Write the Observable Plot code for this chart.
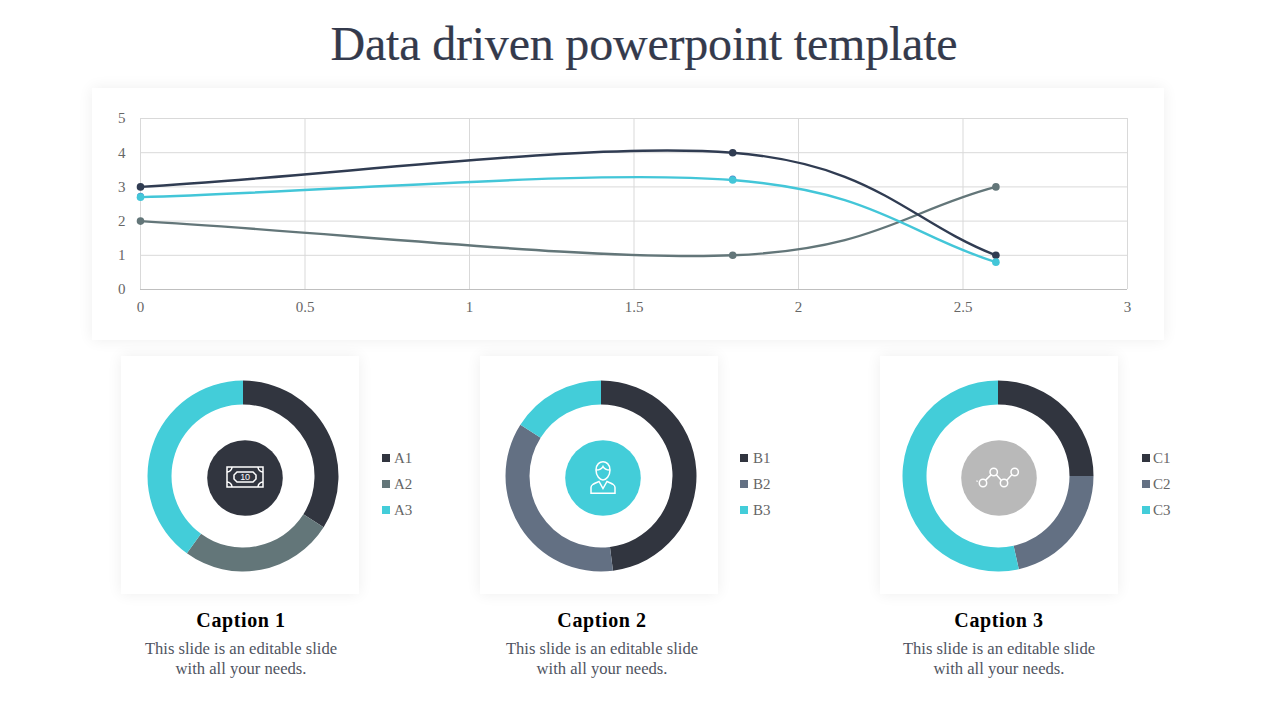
<!DOCTYPE html>
<html><head><meta charset="utf-8">
<script src="https://cdn.jsdelivr.net/npm/d3@7"></script>
<script src="https://cdn.jsdelivr.net/npm/@observablehq/plot@0.6"></script>
<style>
html,body{margin:0;padding:0;background:#fff}
#page{position:relative;width:1280px;height:720px;overflow:hidden;background:#fff;font-family:"Liberation Serif",serif}
#page>*{position:absolute}
.card{background:#fff;box-shadow:0 0 14px rgba(0,0,0,.07)}
#title{left:0;width:1288px;top:17px;text-align:center;font-size:48px;line-height:54px;color:#343a4c;letter-spacing:-.2px;white-space:nowrap;-webkit-text-stroke:.2px #343a4c}
.cap{font-weight:bold;font-size:20px;line-height:22px;color:#000;text-align:center;width:240px;letter-spacing:.6px}
.txt{font-size:16.6px;line-height:20px;color:#4f5461;text-align:center;width:240px}
.leg{font-size:15px;line-height:18px;color:#666;white-space:nowrap}
.sw{width:8px;height:8px}
svg{background:transparent;overflow:visible}
</style></head><body><div id="page"></div>
<script>
const lineX=[0,1.8,2.6];
const series1=[3,4,1];
const series2=[2,1,3];
const series3=[2.7,3.2,0.8];
const hiddenX=[0,1.8];
const hiddenY=[2.7,3.2];
const xTicks=[0,0.5,1,1.5,2,2.5,3];
const yTicks=[0,1,2,3,4,5];
const lineColors=["#303c52","#637679","#43c6d8"];

const donutA=[34,26,40], donutB=[48,36,16], donutC=[25,21.5,53.5];
const namesA=["A1","A2","A3"], namesB=["B1","B2","B3"], namesC=["C1","C2","C3"];
const colorsA=["#31353f","#637679","#43cdd9"];
const colorsB=["#31353f","#637083","#43cdd9"];
const colorsC=colorsB;
const captions=["Caption 1","Caption 2","Caption 3"];
const bodyLines=["This slide is an editable slide","with all your needs."];

const page=document.getElementById("page");
function add(cls,css,html){const e=document.createElement("div");e.className=cls;e.style.cssText=css;if(html!=null)e.innerHTML=html;page.appendChild(e);return e;}

add("","",null).id="title";
document.getElementById("title").textContent="Data driven powerpoint template";

// spreadsheet-style smoothing: inner tangents (next-prev)/6, end tangents along the chord /3
function smoothCurve(ctx){
  let pts;
  return {
    lineStart(){pts=[];},
    point(x,y){pts.push([+x,+y]);},
    lineEnd(){
      const n=pts.length; if(!n) return;
      ctx.moveTo(pts[0][0],pts[0][1]);
      for(let i=0;i<n-1;i++){
        const p1=pts[i],p2=pts[i+1],p0=pts[i-1],p3=pts[i+2];
        const c1=p0?[p1[0]+(p2[0]-p0[0])/6,p1[1]+(p2[1]-p0[1])/6]:[p1[0]+(p2[0]-p1[0])/3,p1[1]+(p2[1]-p1[1])/3];
        const c2=p3?[p2[0]-(p3[0]-p1[0])/6,p2[1]-(p3[1]-p1[1])/6]:[p2[0]-(p2[0]-p1[0])/3,p2[1]-(p2[1]-p1[1])/3];
        ctx.bezierCurveTo(c1[0],c1[1],c2[0],c2[1],p2[0],p2[1]);
      }
    },
    areaStart(){},areaEnd(){}
  };
}

// main line chart card
add("card","left:92px;top:88px;width:1072px;height:252px");
const table=[series1,series2,series3].flatMap((s,k)=>s.map((y,i)=>({x:lineX[i],y,k})));
const chart=Plot.plot({
  width:1072,height:252,marginLeft:49,marginRight:36,marginTop:30,marginBottom:51,
  style:{background:"transparent",fontFamily:'"Liberation Serif",serif',fontSize:"15px",color:"#666"},
  x:{domain:[0,3],ticks:xTicks,label:null,tickFormat:String},
  y:{domain:[0,5],ticks:yTicks,label:null,tickFormat:String},
  marks:[
    Plot.ruleX(xTicks,{stroke:"#d9d9d9",strokeWidth:1,strokeOpacity:1}),
    Plot.ruleY(yTicks.slice(1),{stroke:"#d9d9d9",strokeWidth:1,strokeOpacity:1}),
    Plot.ruleY([0],{stroke:"#bfbfbf",strokeWidth:1}),
    Plot.axisX({ticks:xTicks,tickSize:0,tickPadding:12,tickFormat:String,label:null,fill:"#666"}),
    Plot.axisY({ticks:yTicks,tickSize:0,tickPadding:15,tickFormat:String,label:null,fill:"#666"}),
    Plot.dot(hiddenX.map((x,i)=>({x,y:hiddenY[i]})),{x:"x",y:"y",r:3.5,dy:-1,fill:"#4f83c9",stroke:"none"}),
    ...[1,0,2].flatMap(k=>[
      Plot.line(table.filter(d=>d.k===k),{x:"x",y:"y",curve:smoothCurve,stroke:lineColors[k],strokeWidth:2.4}),
      Plot.dot(table.filter(d=>d.k===k),{x:"x",y:"y",r:3.8,fill:lineColors[k],stroke:"none"})
    ])
  ]
});
chart.style.cssText+=";position:absolute;left:91px;top:88px";
page.appendChild(chart);

function donutMark(values,names){
  const data=values.map((value,i)=>({value,name:names[i]}));
  return Plot.barX(data,Plot.stackX({x:"value",fill:"name",order:null,inset:0,
    render(index,scales,ch,dim){
      const g=d3.create("svg:g");
      const w=dim.width,h=dim.height;
      const ang=d3.scaleLinear().domain([0,w]).range([0,2*Math.PI]);
      const arc=d3.arc().innerRadius(71.5).outerRadius(95.5);
      for(const i of index){
        g.append("path")
         .attr("transform",`translate(${w/2},${h/2})`)
         .attr("fill",ch.fill[i])
         .attr("d",arc({startAngle:ang(ch.x1[i]),endAngle:ang(ch.x2[i])}));
      }
      return g.node();
    }}));
}
function donut(values,names,colors,cx,cy){
  const p=Plot.plot({
    width:200,height:200,margin:0,
    style:{background:"transparent"},
    x:{domain:[0,d3.sum(values)],axis:null},
    y:{axis:null},
    color:{domain:names,range:colors},
    marks:[donutMark(values,names)]
  });
  p.style.cssText+=`;position:absolute;left:${cx-100}px;top:${cy-100}px`;
  return p;
}
const cards=[
 {card:121,cx:243.2,vals:donutA,names:namesA,colors:colorsA,legX:382,textX:394,capX:241,hub:244.5,hubFill:"#31353f"},
 {card:480,cx:601,vals:donutB,names:namesB,colors:colorsB,legX:740,textX:753,capX:602,hub:602.5,hubFill:"#43cdd9"},
 {card:880,cx:998,vals:donutC,names:namesC,colors:colorsC,legX:1142,textX:1153,capX:999,hub:999,hubFill:"#b9b9b9"}
];
const icons=[
 `<g transform="translate(0,-1)"><rect x="-18" y="-10" width="36" height="20"/><path d="M-8-5H8L11-2V2L8 5H-8L-11 2V-2Z"/><path d="M-18-5A5 5 0 0 0-13-10M18-5A5 5 0 0 1 13-10M-18 5A5 5 0 0 1-13 10M18 5A5 5 0 0 0 13 10"/><text x="0" y="3.2" text-anchor="middle" font-family="Liberation Sans" font-size="9" letter-spacing="-.3" fill="#fff" stroke="none">10</text></g>`,
 `<path d="M-7-8C-7-14-3-16.3 0-16.3S7-14 7-8C7-2 3 2 0 2S-7-2-7-8Z"/><path d="M-7-8C-3-8-1-9.5 0-11.5 1-9.5 3-8 7-8"/><path d="M-12 15.3V9.5C-12 7-10 6-4 3.5L0 10.5 4 3.5C10 6 12 7 12 9.5V15.3Z"/>`,
 `<circle cx="-16" cy="5" r="3.7"/><circle cx="-5.3" cy="-6" r="3.7"/><circle cx="5" cy="5" r="3.7"/><circle cx="15.7" cy="-6" r="3.7"/><path d="M-13.6 2.4-7.8-3.4M-2.7-3.2 2.4 2.4M7.6 2.4 13-3.4M-22.3 3.7-21.6 2.6"/>`
];
cards.forEach((c,i)=>{
  add("card",`left:${c.card}px;top:356px;width:238px;height:238px`);
  page.appendChild(donut(c.vals,c.names,c.colors,c.cx,475.6));
  add("",`left:${c.hub-38}px;top:440px;width:76px;height:76px`,
    `<svg width="76" height="76" viewBox="-38 -38 76 76" style="display:block"><circle r="37.8" fill="${c.hubFill}"/><g fill="none" stroke="#fff" stroke-width="1.5">${icons[i]}</g></svg>`);
  c.names.forEach((n,j)=>{
    add("sw",`left:${c.legX}px;top:${454+26*j}px;background:${c.colors[j]}`);
    add("leg",`left:${c.textX}px;top:${449+26*j}px`,n);
  });
  add("cap",`left:${c.capX-120}px;top:609px`,captions[i]);
  bodyLines.forEach((t,j)=>add("txt",`left:${c.capX-120}px;top:${639+20*j}px`,t));
});
</script></body></html>
